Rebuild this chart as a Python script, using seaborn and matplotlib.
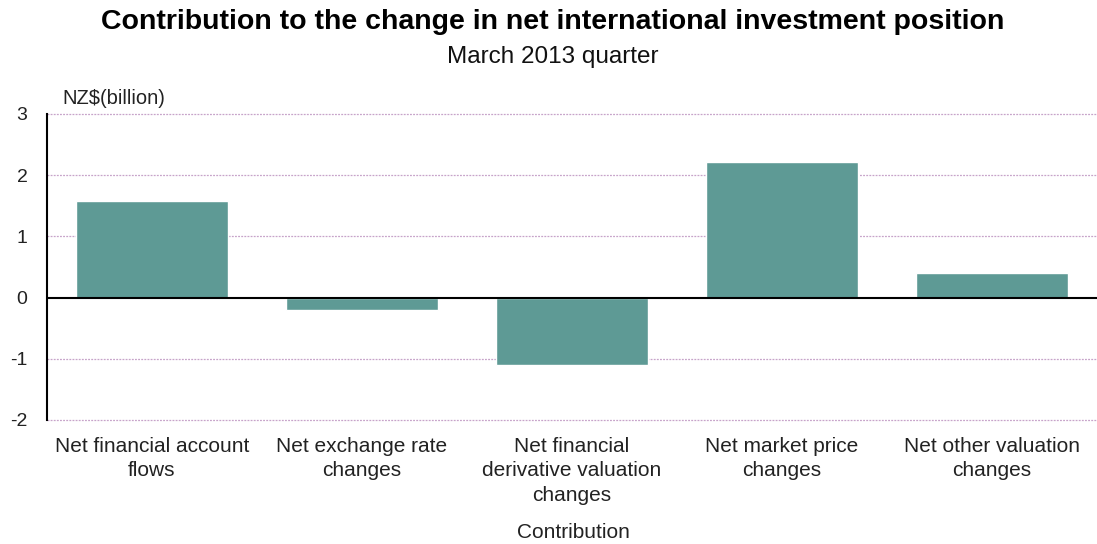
import matplotlib
matplotlib.use("Agg")
import matplotlib.pyplot as plt
import seaborn as sns
import pandas as pd

categories = [
    "Net financial account\nflows",
    "Net exchange rate\nchanges",
    "Net financial\nderivative valuation\nchanges",
    "Net market price\nchanges",
    "Net other valuation\nchanges",
]
values = [1.58, -0.21, -1.10, 2.21, 0.40]
y_ticks = [-2, -1, 0, 1, 2, 3]

title = "Contribution to the change in net international investment position"
subtitle = "March 2013 quarter"
y_unit = "NZ$(billion)"
x_title = "Contribution"

sns.set_theme(style="white")
plt.rcParams["font.family"] = ["Liberation Sans", "DejaVu Sans"]

df = pd.DataFrame({"category": categories, "value": values})

fig = plt.figure(figsize=(10.97, 5.44), dpi=100)
ax = fig.add_axes([47 / 1097, 1 - 420 / 544, 1 - 47 / 1097, (420 - 114) / 544])

sns.barplot(data=df, x="category", y="value", color="#5E9A95", width=0.72,
            saturation=1, ax=ax, zorder=3)

ax.set_ylim(-2, 3)
ax.set_xlim(-0.5, len(categories) - 0.5)
ax.set_yticks(y_ticks)
ax.set_yticklabels([str(t) for t in y_ticks], fontsize=14, color="#222222")
ax.tick_params(axis="y", length=0, pad=14)
ax.tick_params(axis="x", length=0, pad=12, labelsize=15, colors="#222222")
for lbl in ax.get_xticklabels():
    lbl.set_linespacing(1.38)
    lbl.set_verticalalignment("top")

for t in y_ticks:
    if t != 0:
        ax.axhline(t, color="#C7A3C9", lw=0.9, ls=(0, (1.5, 1)), zorder=1,
                   clip_on=False)
ax.axhline(0, color="black", lw=1.5, zorder=4)

for side in ["top", "right", "bottom"]:
    ax.spines[side].set_visible(False)
ax.spines["left"].set_color("black")
ax.spines["left"].set_linewidth(1.5)

ax.set_xlabel("")
ax.set_ylabel("")

fig.text(553 / 1097, 1 - 22 / 544, title, ha="center", va="center",
         fontsize=20.5, fontweight="bold", color="black")
fig.text(553 / 1097, 1 - 57 / 544, subtitle, ha="center", va="center",
         fontsize=17.5, color="#111111")
fig.text(62 / 1097, 1 - 99 / 544, y_unit, ha="left", va="center",
         fontsize=14.5, color="#222222")
fig.text(573 / 1097, 1 - 533 / 544, x_title, ha="center", va="center",
         fontsize=15, color="#222222")

fig.savefig("out.png", dpi=100)
